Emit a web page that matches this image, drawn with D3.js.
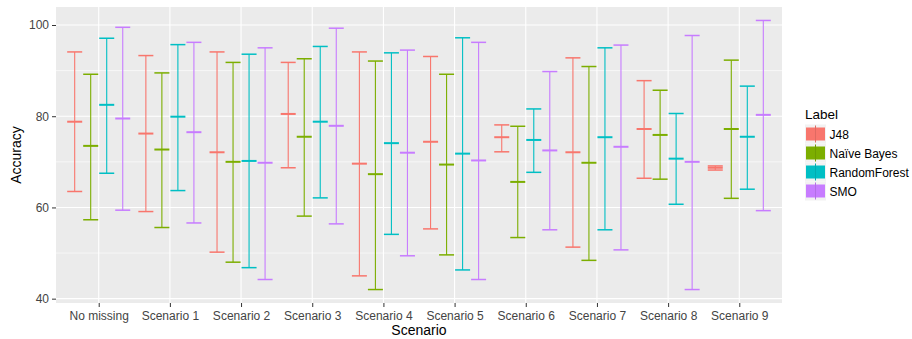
<!DOCTYPE html>
<html><head><meta charset="utf-8">
<script src="https://cdn.jsdelivr.net/npm/d3@7"></script>
<style>body{margin:0;background:#fff}svg{display:block}text{font-family:"Liberation Sans",Arial,sans-serif}</style>
</head><body><svg id="c" width="912" height="339"></svg>
<script>
const scenarios = ["No missing","Scenario 1","Scenario 2","Scenario 3","Scenario 4","Scenario 5","Scenario 6","Scenario 7","Scenario 8","Scenario 9"];
const labels = ["J48","Naïve Bayes","RandomForest","SMO"];
const colors = ["#F8766D","#7CAE00","#00BFC4","#C77CFF"];
const yTicks = [40,60,80,100];
// mean, min, max per scenario
const j48Mean = [78.8,76.2,72.1,80.5,69.6,74.4,75.4,72.1,77.2,68.7];
const j48Min  = [63.5,59.1,50.2,68.7,45.0,55.3,72.2,51.3,66.4,68.2];
const j48Max  = [94.1,93.3,94.1,91.8,94.1,93.1,78.1,92.8,87.8,69.1];
const nbMean = [73.5,72.7,70.0,75.5,67.3,69.4,65.6,69.8,75.9,77.2];
const nbMin  = [57.3,55.6,48.0,58.1,42.0,49.6,53.4,48.4,66.2,62.0];
const nbMax  = [89.2,89.5,91.8,92.6,92.1,89.2,77.8,90.9,85.7,92.3];
const rfMean = [82.5,79.9,70.2,78.8,74.1,71.8,74.8,75.4,70.7,75.5];
const rfMin  = [67.5,63.7,46.8,62.1,54.1,46.3,67.7,55.1,60.7,64.0];
const rfMax  = [97.1,95.7,93.6,95.3,93.9,97.2,81.6,95.0,80.6,86.6];
const smoMean = [79.5,76.5,69.8,77.9,72.0,70.3,72.5,73.3,70.0,80.3];
const smoMin  = [59.4,56.6,44.2,56.4,49.4,44.2,55.1,50.7,42.0,59.3];
const smoMax  = [99.5,96.2,95.0,99.3,94.5,96.2,89.8,95.6,97.7,101.0];

const seriesMean = [j48Mean, nbMean, rfMean, smoMean];
const seriesMin = [j48Min, nbMin, rfMin, smoMin];
const seriesMax = [j48Max, nbMax, rfMax, smoMax];
const rows = [];
labels.forEach((l, si) => scenarios.forEach((s, ci) => rows.push({
  label: l, scen: s, mean: seriesMean[si][ci], min: seriesMin[si][ci], max: seriesMax[si][ci], color: colors[si]})));

const svg = d3.select("#c");
const P = {l: 56, r: 782, t: 7, b: 303};
const lo = d3.min(rows, d => d.min), hi = d3.max(rows, d => d.max);
const pad = (hi - lo) * 0.05;
const y = d3.scaleLinear().domain([lo - pad, hi + pad]).range([P.b, P.t]);
const x = d3.scalePoint().domain(scenarios).range([P.l, P.r]).padding(0.6);
const dodge = d3.scaleBand().domain(labels).range([-x.step()*0.45, x.step()*0.45]);
const bw = dodge.bandwidth();

svg.append("rect").attr("x", P.l).attr("y", P.t).attr("width", P.r - P.l).attr("height", P.b - P.t).attr("fill", "#EBEBEB");
const minor = [50,70,90];
svg.selectAll(".gmin").data(minor).join("line").attr("x1", P.l).attr("x2", P.r)
  .attr("y1", d => y(d)).attr("y2", d => y(d)).attr("stroke", "#fff").attr("stroke-width", 0.6);
svg.selectAll(".gmaj").data(yTicks).join("line").attr("x1", P.l).attr("x2", P.r)
  .attr("y1", d => y(d)).attr("y2", d => y(d)).attr("stroke", "#fff").attr("stroke-width", 1.1);
svg.selectAll(".gx").data(scenarios).join("line").attr("y1", P.t).attr("y2", P.b)
  .attr("x1", d => x(d)).attr("x2", d => x(d)).attr("stroke", "#fff").attr("stroke-width", 1.1);

// axes
const ax = svg.append("g").attr("transform", `translate(0,${P.b})`).call(d3.axisBottom(x).tickSize(4).tickPadding(4));
const ay = svg.append("g").attr("transform", `translate(${P.l},0)`).call(d3.axisLeft(y).tickValues(yTicks).tickSize(4).tickPadding(3));
[ax, ay].forEach(a => {
  a.select(".domain").remove();
  a.selectAll(".tick line").attr("stroke", "#333").attr("stroke-width", 1);
  a.selectAll(".tick text").attr("fill", "#444").style("font-size", "12px").style("font-family", '"Liberation Sans",Arial,sans-serif');
});

// error bars
const g = svg.append("g");
const cx = d => x(d.scen) + dodge(d.label) + bw / 2;
const hw = bw / 2 - 0.5;
g.selectAll(".v").data(rows).join("line").attr("x1", cx).attr("x2", cx)
  .attr("y1", d => y(d.min)).attr("y2", d => y(d.max)).attr("stroke", d => d.color).attr("stroke-width", 1.1);
g.selectAll(".tcap").data(rows).join("line").attr("x1", d => cx(d) - hw).attr("x2", d => cx(d) + hw)
  .attr("y1", d => y(d.max)).attr("y2", d => y(d.max)).attr("stroke", d => d.color).attr("stroke-width", 1.5);
g.selectAll(".bcap").data(rows).join("line").attr("x1", d => cx(d) - hw).attr("x2", d => cx(d) + hw)
  .attr("y1", d => y(d.min)).attr("y2", d => y(d.min)).attr("stroke", d => d.color).attr("stroke-width", 1.5);
g.selectAll(".mean").data(rows).join("line").attr("x1", d => cx(d) - hw).attr("x2", d => cx(d) + hw)
  .attr("y1", d => y(d.mean)).attr("y2", d => y(d.mean)).attr("stroke", d => d.color).attr("stroke-width", 2);

// titles
svg.append("text").attr("x", (P.l + P.r) / 2).attr("y", 335).attr("text-anchor", "middle")
  .style("font-size", "14px").attr("fill", "#000").text("Scenario");
svg.append("text").attr("transform", `translate(21,${(P.t + P.b) / 2}) rotate(-90)`).attr("text-anchor", "middle")
  .style("font-size", "14px").attr("fill", "#000").text("Accuracy");

// legend
const lg = svg.append("g").attr("transform", "translate(805,0)");
lg.append("text").attr("x", 0).attr("y", 119).style("font-size", "13.5px").attr("fill", "#000").text("Label");
labels.forEach((l, i) => {
  const yy = 124.5 + i * 19;
  lg.append("rect").attr("x", 0).attr("y", yy).attr("width", 21).attr("height", 19).attr("fill", "#F2F2F2");
  lg.append("rect").attr("x", 1).attr("y", yy + 3).attr("width", 19).attr("height", 13).attr("fill", colors[i]);
  lg.append("line").attr("x1", 10.5).attr("x2", 10.5).attr("y1", yy + 1).attr("y2", yy + 18).attr("stroke", d3.color(colors[i]).darker(0.3)).attr("stroke-width", 1);
  lg.append("text").attr("x", 24.5).attr("y", yy + 14).style("font-size", "12px").attr("fill", "#000").text(l);
});
</script></body></html>
